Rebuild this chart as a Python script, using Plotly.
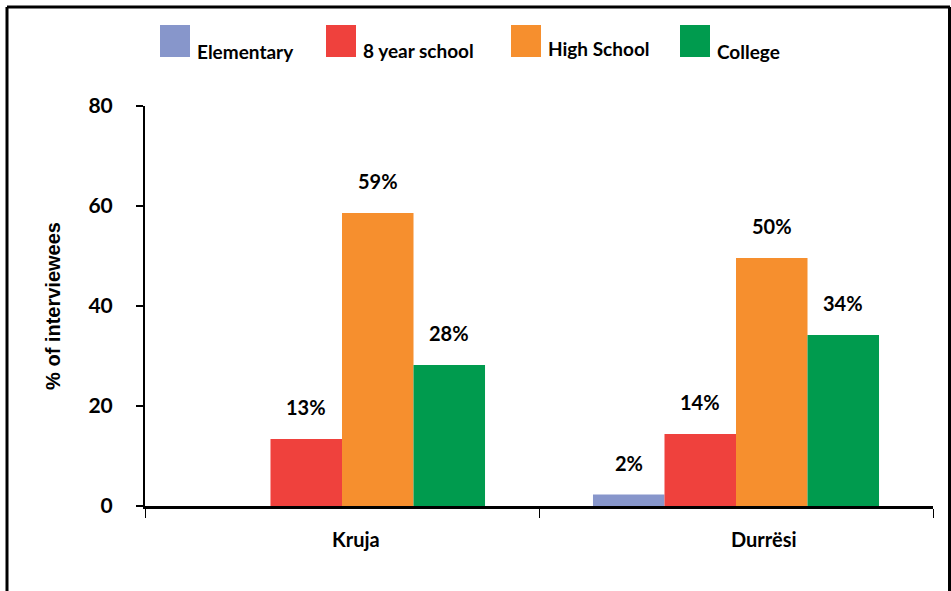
import plotly.graph_objects as go

# ---- data ----
categories = ["Kruja", "Durrësi"]
series_names = ["Elementary", "8 year school", "High School", "College"]
elementary = [0, 2.3]
eight_year = [13.4, 14.4]
high_school = [58.6, 49.6]
college = [28.2, 34.2]
y_ticks = [0, 20, 40, 60, 80]
y_title = "% of interviewees"

series_values = [elementary, eight_year, high_school, college]
colors = ["#8796CB", "#EF413D", "#F68F2E", "#009B4E"]

W, H = 951, 591
L, R, T, B = 145, 18, 106, 85
PW, PH = W - L - R, H - T - B

def px2x(px):
    return (px - L) / PW

def py2y(py):
    return (H - B - py) / PH

NARROW = "Lato, Roboto, sans-serif"
WIDE = "Liberation Sans, Arial, sans-serif"

bargap = 0.274
fig = go.Figure()
for name, vals, col in zip(series_names, series_values, colors):
    fig.add_trace(go.Bar(
        x=categories, y=vals, name=name,
        marker=dict(color=col, line=dict(width=0)),
        showlegend=False,
    ))

annotations = []
n = len(series_names)
w = (1 - bargap) / n
for j, vals in enumerate(series_values):
    for i, v in enumerate(vals):
        if v <= 0:
            continue
        annotations.append(dict(
            x=i + (j - (n - 1) / 2) * w, y=v, xref="x", yref="y",
            text=f"{v:.0f}%", showarrow=False, yanchor="bottom", yshift=18,
            font=dict(family=NARROW, size=20, color="black", weight="bold"),
        ))

# category labels (slightly offset to the right as in the original)
cat_label_shift = [14, 28]
for i, c in enumerate(categories):
    annotations.append(dict(
        x=i, y=0, xref="x", yref="y", text=c, showarrow=False,
        yanchor="middle", yshift=-33, xshift=cat_label_shift[i],
        font=dict(family=NARROW, size=20, color="black", weight="bold"),
    ))

# custom legend (large swatches)
legend_sq_left = [160, 326, 511, 680]
legend_text_y = [51, 50, 48.5, 51]
shapes = []
for k, (name, col) in enumerate(zip(series_names, colors)):
    x0 = legend_sq_left[k]
    shapes.append(dict(type="rect", xref="paper", yref="paper",
                       x0=px2x(x0), x1=px2x(x0 + 30), y0=py2y(57), y1=py2y(25),
                       fillcolor=col, line=dict(width=0)))
    annotations.append(dict(
        x=px2x(x0 + 35), y=py2y(legend_text_y[k]), xref="paper", yref="paper",
        text=name, showarrow=False, xanchor="left", yanchor="middle",
        font=dict(family=NARROW, size=19, color="black", weight="bold"),
    ))

# outer frame (top, left, right)
frame = dict(color="black", width=3)
shapes.append(dict(type="line", xref="paper", yref="paper",
                   x0=px2x(7), x1=px2x(950), y0=py2y(7), y1=py2y(7), line=frame))
shapes.append(dict(type="line", xref="paper", yref="paper",
                   x0=px2x(7), x1=px2x(7), y0=py2y(7), y1=py2y(592), line=frame))
shapes.append(dict(type="line", xref="paper", yref="paper",
                   x0=px2x(949.5), x1=px2x(949.5), y0=py2y(7), y1=py2y(592), line=frame))

fig.update_layout(
    width=W, height=H,
    margin=dict(l=L, r=R, t=T, b=B, pad=0),
    barmode="group", bargap=bargap, bargroupgap=0,
    plot_bgcolor="white", paper_bgcolor="white",
    showlegend=False,
    annotations=annotations, shapes=shapes,
    xaxis=dict(
        type="category", tickson="boundaries", ticks="outside", ticklen=9,
        tickwidth=1, tickcolor="black", showline=True, linecolor="black",
        linewidth=2.5, showgrid=False, zeroline=False, showticklabels=False,
    ),
    yaxis=dict(
        range=[0, 80], tickvals=y_ticks, ticks="outside", ticklen=7,
        tickwidth=1.5, tickcolor="black", showline=True, linecolor="black",
        linewidth=2, showgrid=False, zeroline=False,
        tickfont=dict(family=NARROW, size=21, color="black", weight="bold"),
        ticklabelstandoff=19,
        title=dict(text=y_title, standoff=22,
                   font=dict(family=WIDE, size=20, color="black", weight="bold")),
    ),
)

fig.write_html("out.html")
